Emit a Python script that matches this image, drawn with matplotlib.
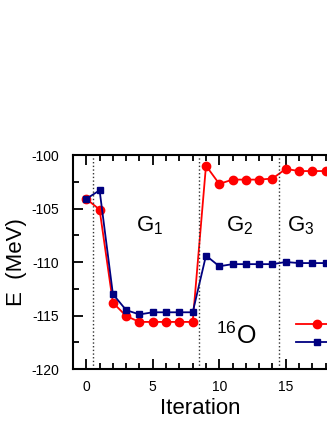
import numpy as np
import matplotlib.pyplot as plt
from matplotlib.ticker import MultipleLocator

plt.rcParams['font.family'] = ['Liberation Sans', 'DejaVu Sans']
plt.rcParams['axes.unicode_minus'] = False
plt.rcParams['mathtext.default'] = 'regular'

# данные
iteration = list(range(19))
e_red = [-104.1, -105.1, -113.8, -115.05, -115.6, -115.6, -115.6, -115.6, -115.6,
         -101.0, -102.7, -102.3, -102.3, -102.3, -102.2, -101.3, -101.5, -101.5, -101.5]
e_blue = [-104.1, -103.3, -113.0, -114.5, -114.9, -114.7, -114.7, -114.7, -114.7,
          -109.4, -110.4, -110.2, -110.2, -110.2, -110.2, -110.0, -110.1, -110.1, -110.1]
group_bounds = [0.5, 8.5, 14.5]
group_labels = ['1', '2', '3']
group_x = [4.8, 11.5, 16.1]

fig = plt.figure(figsize=(3.27, 4.23), dpi=100)
ax = fig.add_axes([73 / 327, 1 - 369 / 423, 254 / 327, 214 / 423])

ax.plot(iteration, e_red, '-o', color='#ff0000', ms=6, lw=1.3, label=' ')
ax.plot(iteration, e_blue, '-s', color='#000080', ms=5, lw=1.3, label=' ')

for b in group_bounds:
    ax.axvline(b, color='#333333', ls=':', lw=1)

for lab, gx in zip(group_labels, group_x):
    ax.text(gx, -106.6, r'G$_{%s}$' % lab, fontsize=16, ha='center', va='center')
ax.text(11.3, -116.9, r'$^{16}$O', fontsize=18, ha='center', va='center')

ax.set_xlim(-1, 18.1)
ax.set_ylim(-120, -100)
ax.xaxis.set_major_locator(MultipleLocator(5))
ax.xaxis.set_minor_locator(MultipleLocator(1))
ax.yaxis.set_major_locator(MultipleLocator(5))
ax.yaxis.set_minor_locator(MultipleLocator(2.5))
ax.tick_params(which='both', direction='in', top=True, right=False, width=1.3)
ax.tick_params(which='major', length=7, labelsize=10)
ax.tick_params(axis='y', which='major', pad=10)
ax.tick_params(axis='x', which='major', pad=8)
ax.tick_params(which='minor', length=4)
ax.spines['right'].set_visible(False)
for s in ['left', 'bottom', 'top']:
    ax.spines[s].set_linewidth(1.5)

ax.set_xlabel('Iteration', fontsize=16, labelpad=3)
ax.set_ylabel('E  (MeV)', fontsize=16, labelpad=3)

ax.legend(loc='center left', bbox_to_anchor=(0.83, 0.165), frameon=False,
          handlelength=3, labelspacing=0.25, fontsize=10)

fig.savefig('out.png', dpi=100)
